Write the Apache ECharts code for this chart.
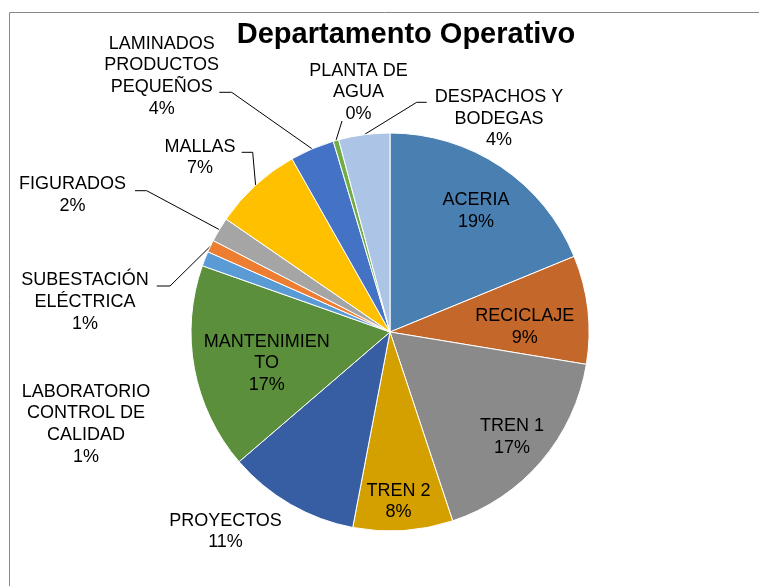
<!DOCTYPE html>
<html><head><meta charset="utf-8">
<script src="https://cdn.jsdelivr.net/npm/echarts@6/dist/echarts.min.js"></script>
<style>html,body{margin:0;padding:0;background:#fff}#c{width:759px;height:586px}</style>
</head><body><div id="c"></div>
<script>
const categories = ['ACERIA','RECICLAJE','TREN 1','TREN 2','PROYECTOS','MANTENIMIENTO','LABORATORIO CONTROL DE CALIDAD','SUBESTACIÓN ELÉCTRICA','FIGURADOS','MALLAS','LAMINADOS PRODUCTOS PEQUEÑOS','PLANTA DE AGUA','DESPACHOS Y BODEGAS'];
const labelText = ['ACERIA','RECICLAJE','TREN 1','TREN 2','PROYECTOS','MANTENIMIEN\nTO','LABORATORIO\nCONTROL DE\nCALIDAD','SUBESTACIÓN\nELÉCTRICA','FIGURADOS','MALLAS','LAMINADOS\nPRODUCTOS\nPEQUEÑOS','PLANTA DE\nAGUA','DESPACHOS Y\nBODEGAS'];
const values = [18.8, 8.8, 17.3, 8.1, 10.7, 16.7, 1.2, 1.0, 2.0, 7.2, 3.6, 0.45, 4.15];
const colors = ['#4A7FB1','#C4672A','#8A8A8A','#D4A000','#375EA2','#5B8F3B','#5B9BD5','#ED7D31','#A5A5A5','#FFC000','#4472C4','#70AD47','#ACC5E6'];
const labelInside = [true,true,true,true,false,true,false,false,false,false,false,false,false];
const labelPos = [[476,211.3],[524.7,327],[512,437],[398.5,501.5],[225.5,531.5],[266.7,363.3],[86,424.2],[85,301.9],[72.5,195.3],[200,157.5],[161.7,76.2],[358.5,92.5],[499,118.7]];
const leaderPts = [null,null,null,null,null,null,null,
  [[170,286],[156.7,286]],
  [[146.7,190.7],[135,190.7]],
  [[252.7,152.3],[241.7,152.3]],
  [[231.7,92.3],[219.3,92.3]],
  [[342,121]],
  [[416.7,102.3],[426.7,102.3]]];

const total = values.reduce((a,b)=>a+b,0);
const chart = echarts.init(document.getElementById('c'), null, {renderer:'canvas'});
const data = categories.map((n,i)=>({
  name: n,
  value: values[i],
  itemStyle: {color: colors[i]},
  label: {position: labelInside[i] ? 'inside' : 'outside'},
  labelLine: {show: !!leaderPts[i]}
}));
chart.setOption({
  animation: false,
  graphic: [
    {type:'rect', shape:{x:9.5, y:12.5, width:900, height:700}, style:{fill:'none', stroke:'#888', lineWidth:1}, silent:true, z:-1},
    {type:'text', x:406, y:35, style:{text:'Departamento Operativo', align:'center', verticalAlign:'middle', font:'bold 29px "Liberation Sans", Arial, sans-serif', fill:'#000'}}
  ],
  series: [{
    type: 'pie',
    center: [390, 332],
    radius: 199,
    startAngle: 90,
    clockwise: true,
    avoidLabelOverlap: false,
    itemStyle: {borderColor:'#fff', borderWidth:1},
    label: {
      show: true,
      formatter: p => labelText[p.dataIndex] + '\n' + Math.round(p.value/total*100) + '%',
      fontFamily: '"Liberation Sans", Arial, sans-serif',
      fontSize: 18,
      lineHeight: 21.7,
      color: '#000',
      align: 'center'
    },
    labelLine: {show:false, smooth:false, lineStyle:{color:'#000', width:1}},
    labelLayout: function(params){
      const i = params.dataIndex;
      const p = labelPos[i];
      const out = {x:p[0], y:p[1], align:'center', verticalAlign:'middle'};
      if (leaderPts[i] && params.labelLinePoints) {
        out.labelLinePoints = [params.labelLinePoints[0]].concat(leaderPts[i]);
      }
      return out;
    },
    emphasis: {disabled:true},
    data: data
  }]
});
</script></body></html>
